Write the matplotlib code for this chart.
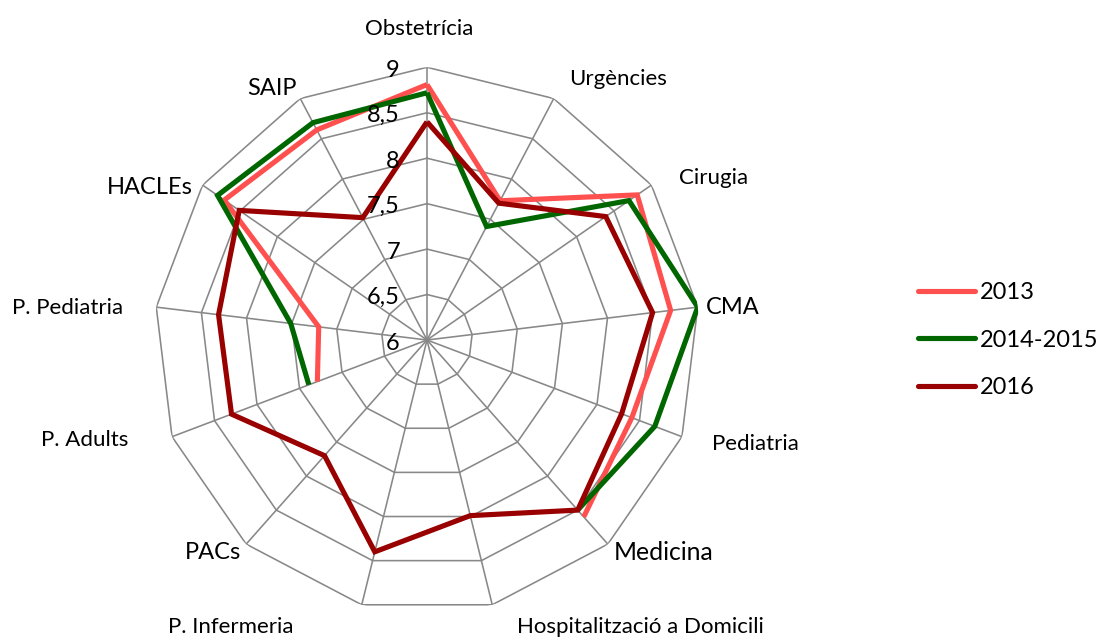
import numpy as np
import matplotlib
matplotlib.use("Agg")
import matplotlib.pyplot as plt

plt.rcParams['font.family'] = ['Lato', 'DejaVu Sans']

categories = ['Obstetrícia', 'Urgències', 'Cirugia', 'CMA', 'Pediatria', 'Medicina',
              'Hospitalització a Domicili', 'P. Infermeria', 'PACs', 'P. Adults',
              'P. Pediatria', 'HACLEs', 'SAIP']
nan = np.nan
v2013 = [8.81, 7.73, 8.81, 8.70, 8.41, 8.60, nan, nan, nan, 7.29, 7.20, 8.71, 8.61]
v2014 = [8.72, 7.41, 8.70, 9.00, 8.68, 8.50, nan, nan, nan, 7.39, 7.51, 8.80, 8.70]
v2016 = [8.40, 7.70, 8.39, 8.50, 8.29, 8.50, 7.99, 8.40, 7.70, 8.30, 8.31, 8.51, 7.52]
series_names = ['2013', '2014-2015', '2016']
tick_values = [6, 6.5, 7, 7.5, 8, 8.5, 9]
tick_labels = ['6', '6,5', '7', '7,5', '8', '8,5', '9']

colors = ['#FF5050', '#006600', '#990000']

W, H = 1097, 637
fig = plt.figure(figsize=(W / 100, H / 100), dpi=100)
cx, cy, R = 427, 340, 272.7
ax = fig.add_axes([(cx - R) / W, (H - cy - R) / H, 2 * R / W, 2 * R / H], projection='polar')
ax.set_theta_zero_location('N')
ax.set_theta_direction(-1)
ax.set_ylim(6, 9)
ax.grid(False)
ax.spines['polar'].set_visible(False)
ax.set_xticks([])
ax.set_yticks([])
ax.patch.set_alpha(0)

n = len(categories)
theta = np.arange(n) * 2 * np.pi / n
theta_c = np.append(theta, theta[0])

gcol = '#888888'
for v in tick_values[1:]:
    ax.plot(theta_c, [v] * (n + 1), color=gcol, lw=1.15, zorder=1)
for t in theta:
    ax.plot([t, t], [6, 9], color=gcol, lw=1.15, zorder=1)

for name, vals, c in zip(series_names, [v2013, v2014, v2016], colors):
    vv = np.append(vals, vals[0])
    ax.plot(theta_c, vv, color=c, lw=3.7, label=name, zorder=3,
            solid_joinstyle='miter', solid_capstyle='butt')

# radial tick labels
for v, lab in zip(tick_values, tick_labels):
    ax.annotate(lab, xy=(0, v), xytext=(-27, -3), textcoords='offset pixels',
                ha='right', va='center', fontsize=17, color='black', zorder=5)

# category labels: (dx, dy) offsets in pixels (y down), size, ha
lab_style = {
    'Obstetrícia': ((-8, -38), 16, 'center'),
    'Urgències': ((64, -20), 16, 'center'),
    'Cirugia': ((62, -7), 16, 'center'),
    'CMA': ((35, 0), 17, 'center'),
    'Pediatria': ((73, 7), 16, 'center'),
    'Medicina': ((56, 8), 17.8, 'center'),
    'Hospitalització a Domicili': ((148, 22), 16, 'center'),
    'P. Infermeria': ((-131, 22), 16, 'center'),
    'PACs': ((-33, 8), 17, 'center'),
    'P. Adults': ((-87, 3), 16, 'center'),
    'P. Pediatria': ((-89, 1), 16, 'center'),
    'HACLEs': ((-10, 2), 17, 'right'),
    'SAIP': ((-28, -10), 17, 'center'),
}
for t, cat in zip(theta, categories):
    (dx, dy), fs, ha = lab_style[cat]
    ax.annotate(cat, xy=(t, 9), xytext=(dx, -dy), textcoords='offset pixels',
                ha=ha, va='center', fontsize=fs, color='black', annotation_clip=False)

leg = fig.legend(loc='center left', bbox_to_anchor=(918 / W, 1 - 340 / H),
                 frameon=False, fontsize=17, handlelength=2.4, handletextpad=0.2,
                 labelspacing=1.12, borderpad=0, borderaxespad=0)
for line in leg.get_lines():
    line.set_linewidth(3.7)
    line.set_solid_capstyle('round')

fig.savefig('out.png', dpi=100)
